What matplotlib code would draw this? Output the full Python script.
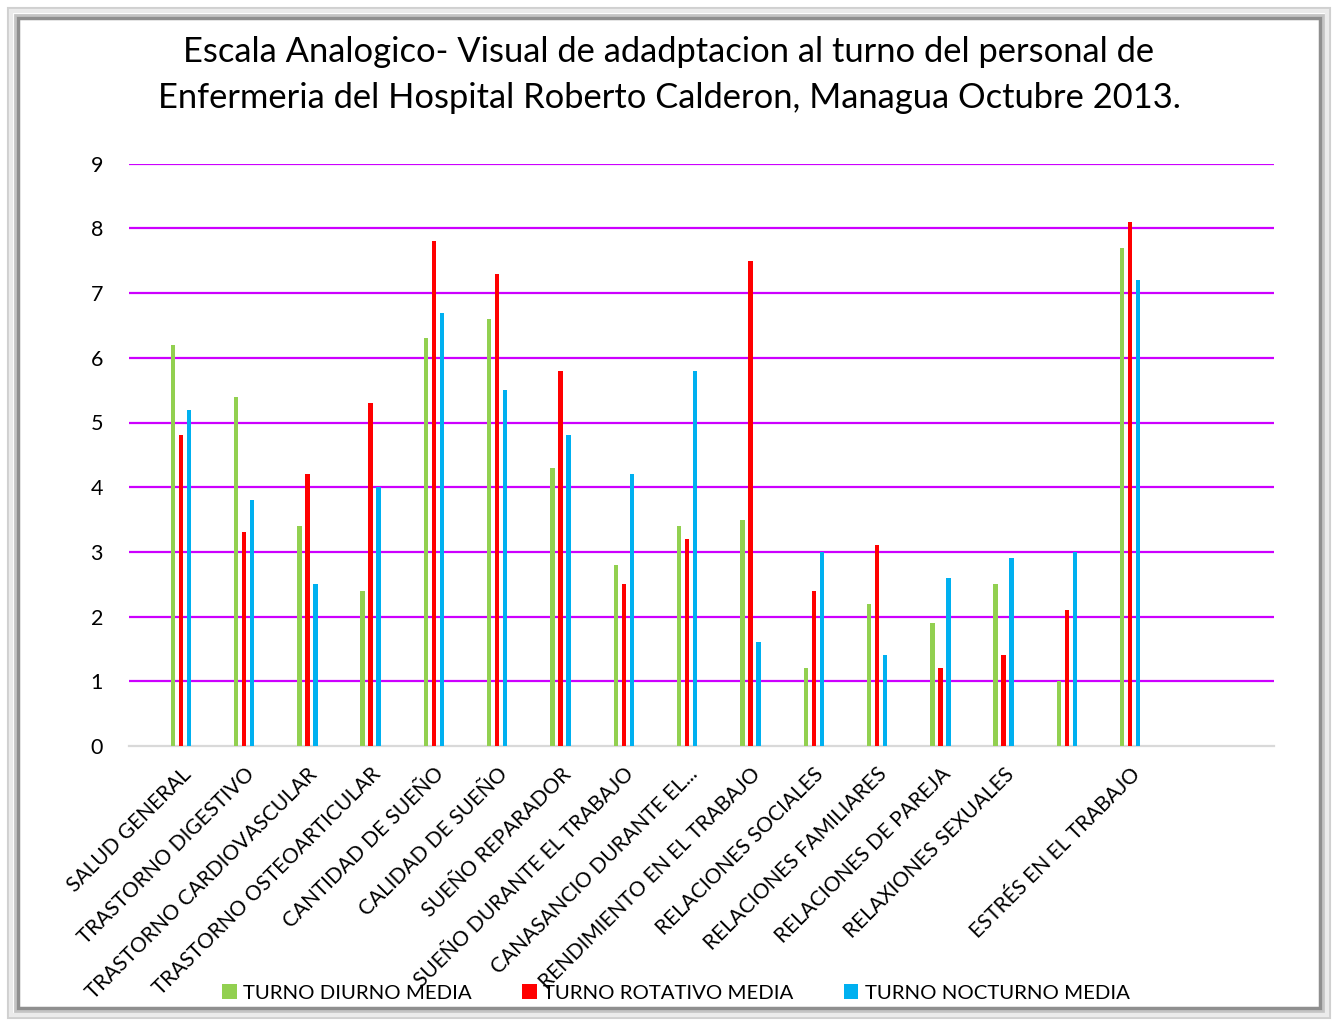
import matplotlib
matplotlib.use("Agg")
import matplotlib.pyplot as plt
from matplotlib.patches import Rectangle, Patch
import numpy as np

categories = ["SALUD GENERAL", "TRASTORNO DIGESTIVO", "TRASTORNO CARDIOVASCULAR",
              "TRASTORNO OSTEOARTICULAR", "CANTIDAD DE SUEÑO", "CALIDAD DE SUEÑO",
              "SUEÑO REPARADOR", "SUEÑO DURANTE EL TRABAJO", "CANASANCIO DURANTE EL...",
              "RENDIMIENTO EN EL TRABAJO", "RELACIONES SOCIALES", "RELACIONES FAMILIARES",
              "RELACIONES DE PAREJA", "RELAXIONES SEXUALES", "", "ESTRÉS EN EL TRABAJO"]
diurno = [6.2, 5.4, 3.4, 2.4, 6.3, 6.6, 4.3, 2.8, 3.4, 3.5, 1.2, 2.2, 1.9, 2.5, 1.0, 7.7]
rotativo = [4.8, 3.3, 4.2, 5.3, 7.8, 7.3, 5.8, 2.5, 3.2, 7.5, 2.4, 3.1, 1.2, 1.4, 2.1, 8.1]
nocturno = [5.2, 3.8, 2.5, 4.0, 6.7, 5.5, 4.8, 4.2, 5.8, 1.6, 3.0, 1.4, 2.6, 2.9, 3.0, 7.2]
series_names = ["TURNO DIURNO MEDIA", "TURNO ROTATIVO MEDIA", "TURNO NOCTURNO MEDIA"]
colors = ["#92D050", "#FF0000", "#00B0F0"]
title = ("Escala Analogico- Visual de adadptacion al turno del personal de\n"
         "Enfermeria del Hospital Roberto Calderon, Managua Octubre 2013.")

FONT = ["Lato", "DejaVu Sans"]
plt.rcParams['font.family'] = FONT

W, H = 1338, 1026
fig = plt.figure(figsize=(W / 100, H / 100), dpi=100)
fig.patch.set_facecolor("white")

def px(x0, y0, x1, y1):
    return (x0 / W, 1 - y1 / H, (x1 - x0) / W, (y1 - y0) / H)

# frame (bevel)
def frame(off, color, lw):
    fx, fy, fw, fh = px(off, off, W - off, H - off)
    fig.patches.append(Rectangle((fx, fy), fw, fh, transform=fig.transFigure,
                                 fill=False, edgecolor=color, linewidth=lw, zorder=0))
frame(8, "#d0d0d0", 1.5)
frame(11, "#ebebeb", 3)
frame(15, "#c4c4c4", 2)
frame(18, "#8f8f8f", 2.5)

ax = fig.add_axes(px(129.3, 163.7, 1274.3, 746))
x = np.arange(len(categories))
step = 8 / 63.3
bw = 4.4 / 63.3
for i, (vals, c, name) in enumerate(zip([diurno, rotativo, nocturno], colors, series_names)):
    ax.bar(x + (i - 1) * step, vals, width=bw, color=c, label=name, zorder=3)

ax.set_ylim(0, 9)
ax.set_xlim((129.3 - 180.7) / 63.3, (1274.3 - 180.7) / 63.3)
ax.set_yticks(range(0, 10))
ax.yaxis.grid(True, color="#CC00FF", linewidth=1.6, zorder=1)
ax.get_ygridlines()[0].set_visible(False)
ax.set_axisbelow(True)
for s in ["left", "right", "top"]:
    ax.spines[s].set_visible(False)
ax.spines["bottom"].set_color("#D9D9D9")
ax.spines["bottom"].set_linewidth(1.6)
ax.tick_params(axis="both", length=0)
ax.tick_params(axis="y", pad=19, labelsize=15.5, labelcolor="#000000")
ax.set_xticks(x)
ax.set_xticklabels(categories, rotation=45, ha="right", va="top",
                   rotation_mode="anchor", fontsize=15)
ax.tick_params(axis="x", pad=13)

fig.text(0.5, 1 - 75 / H, title, ha="center", va="center", fontsize=24.8,
         linespacing=1.5, color="#000000")

handles = [Patch(facecolor=c, edgecolor="none") for c in colors]
fig.legend(handles, series_names, loc="center", bbox_to_anchor=(676 / W, 1 - 993 / H),
           ncol=3, frameon=False, fontsize=14.7, handlelength=0.72, handleheight=0.72,
           handletextpad=0.32, columnspacing=2.45)

fig.savefig("out.png", dpi=100, facecolor="white")
